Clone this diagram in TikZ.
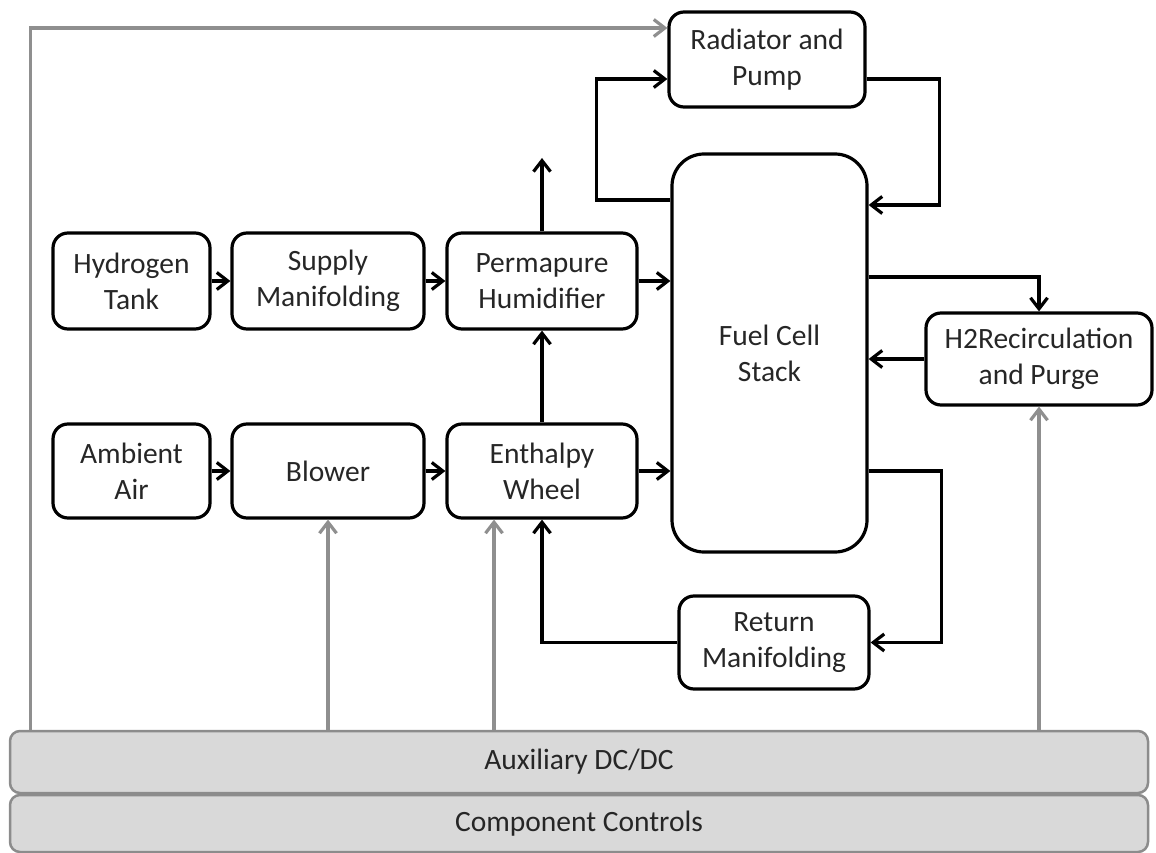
\documentclass[tikz,border=0pt]{standalone}
\usepackage{fontspec}
\setmainfont{Carlito}
\usetikzlibrary{arrows.meta}
\definecolor{ctlgray}{HTML}{8F8F8F}
\definecolor{barfill}{HTML}{D9D9D9}
\definecolor{barline}{HTML}{8C8C8C}
\definecolor{txt}{HTML}{262626}

\begin{document}
\begin{tikzpicture}[x=1pt,y=-1pt,
  box/.style={draw,line width=3.2pt,rounded corners=15pt,align=center,inner sep=0pt,
    text=txt,font=\fontsize{29.5}{36}\selectfont},
  bar/.style={box,draw=barline,fill=barfill,line width=2.5pt,rounded corners=10pt,minimum width=1138pt},
  flow/.style={line width=3.2pt,-{Straight Barb[length=11pt,width=17pt]}},
  ctl/.style={flow,draw=ctlgray}]
\useasboundingbox (0,0) rectangle (1156,853);

% components
\node[box,minimum width=196pt,minimum height=95pt] (rad) at (767,59.5) {Radiator and\\Pump};
\node[box,rounded corners=32pt,minimum width=195pt,minimum height=398pt] (stack) at (769.5,353) {Fuel Cell\\Stack};
\node[box,minimum width=157pt,minimum height=96pt] (htank) at (131.5,281) {Hydrogen\\Tank};
\node[box,minimum width=192pt,minimum height=96pt] (supply) at (328,281) {Supply\\Manifolding};
\node[box,minimum width=190pt,minimum height=96pt] (perma) at (542,281) {Permapure\\Humidifier};
\node[box,minimum width=157pt,minimum height=94pt] (air) at (131.5,471) {Ambient\\Air};
\node[box,minimum width=192pt,minimum height=94pt] (blower) at (328,471) {Blower};
\node[box,minimum width=190pt,minimum height=94pt] (wheel) at (542,471) {Enthalpy\\Wheel};
\node[box,minimum width=226pt,minimum height=92pt] (h2) at (1039,359) {H2Recirculation\\and Purge};
\node[box,minimum width=190pt,minimum height=93pt] (ret) at (774,642.5) {Return\\Manifolding};

% control layers
\node[bar,minimum height=62pt] (aux) at (579,762) {Auxiliary DC/DC};
\node[bar,minimum height=57pt] (ctrl) at (579,823.5) {Component Controls};

\coordinate (vent) at (542,158);
\coordinate (wheelin) at ([xshift=-48pt]wheel.south);

% gas lines
\draw[flow] (htank) -- (supply);
\draw[flow] (supply) -- (perma);
\draw[flow] (air) -- (blower);
\draw[flow] (blower) -- (wheel);
\draw[flow] (wheel) -- (perma);
\draw[flow] (perma.north) -- (vent);
\draw[flow] (perma.east) -- (stack.west |- perma.east);
\draw[flow] (wheel.east) -- (stack.west |- wheel.east);

% coolant loop
\draw[flow] ([yshift=153pt]stack.west) -- ++(-74,0) |- ([yshift=-19.5pt]rad.west);
\draw[flow] ([yshift=-19.5pt]rad.east) -- ++(73,0) |- ([yshift=148pt]stack.east);

% anode and cathode exhaust
\draw[flow] ([yshift=76pt]stack.east) -| (h2.north);
\draw[flow] (h2.west) -- (stack.east |- h2.west);
\draw[flow] ([yshift=-118pt]stack.east) -- ++(73,0) |- (ret.east);
\draw[flow] (ret.west) -| (wheel.south);

% power and control
\draw[ctl] ([xshift=22pt]aux.north west) |- ([yshift=31.5pt]rad.west);
\draw[ctl] (aux.north -| blower.south) -- (blower.south);
\draw[ctl] (aux.north -| wheelin) -- (wheelin);
\draw[ctl] (aux.north -| h2.south) -- (h2.south);
\end{tikzpicture}
\end{document}
